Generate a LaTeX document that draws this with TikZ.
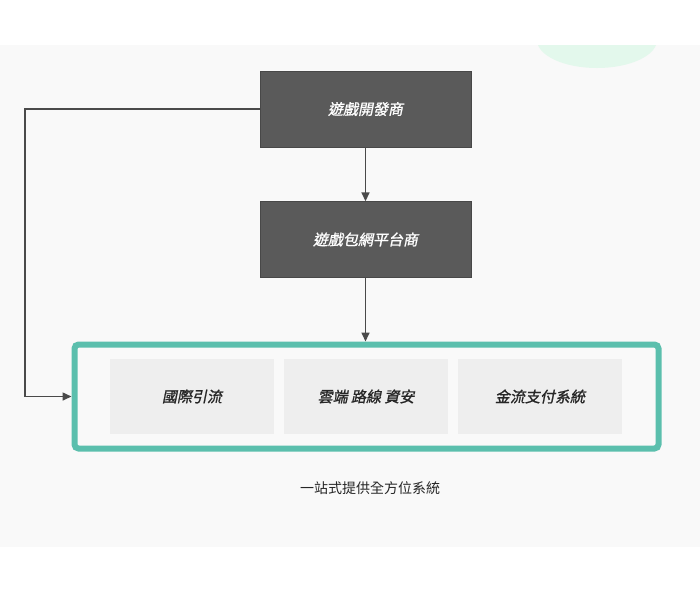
\documentclass[tikz,border=0pt]{standalone}
\usepackage{fontspec}
\newfontfamily\cjk{Noto Sans CJK TC}
\newfontfamily\cjkit[FakeSlant=0.2,FakeBold=1.2]{Noto Sans CJK TC}
\usetikzlibrary{positioning,arrows.meta}
\definecolor{darkbox}{HTML}{5A5A5A}
\definecolor{teal}{HTML}{5BBFAD}
\definecolor{cellgray}{HTML}{EEEEEE}
\definecolor{bandgray}{HTML}{F9F9F9}
\definecolor{mint}{HTML}{E3F8EC}
\definecolor{linegray}{HTML}{4A4A4A}
\begin{document}
\begin{tikzpicture}[x=1pt, y=-1pt, >={Triangle[length=9pt,width=8pt]},
  darknode/.style={rectangle, fill=darkbox, draw=darkbox!80!black, minimum width=211pt, minimum height=76pt, text=white, font=\cjkit\fontsize{15}{18}\selectfont},
  cellnode/.style={rectangle, fill=cellgray, minimum width=164pt, minimum height=75pt, font=\cjkit\fontsize{15}{18}\selectfont, text=black!85},
  link/.style={draw=linegray, line width=1.6pt, ->}
]
  \useasboundingbox (0,0) rectangle (700,592);
  \fill[white] (0,0) rectangle (700,592);
  \fill[bandgray] (0,45) rectangle (700,547);
  % -- soft blob top right --
  \begin{scope}
    \clip (0,45) rectangle (700,547);
    \fill[mint] (597,40) ellipse (60pt and 28pt);
  \end{scope}

  % -- top boxes --
  \node[darknode] (dev) at (365.5,109) {遊戲開發商};
  \node[darknode] (plat) at (365.5,239.5) {遊戲包網平台商};

  % -- bottom frame with cells --
  \node[rectangle, draw=teal, line width=6pt, rounded corners=4pt, minimum width=584pt, minimum height=104pt] (frame) at (366.5,396.5) {};
  \node[cellnode] (traffic) at (192,396.5) {國際引流};
  \node[cellnode] (cloud) at (366,396.5) {雲端 路線 資安};
  \node[cellnode] (pay) at (540,396.5) {金流支付系統};
  \node[font=\cjk\fontsize{14}{17}\selectfont, text=black!85] (caption) at (370,488) {一站式提供全方位系統};

  \draw[link] (dev) -- (plat);
  \draw[link] (plat) -- (frame.north -| plat);
  \coordinate (turn) at (25,109);
  \draw[link] (dev.west) -- (turn) |- (frame.west);
\end{tikzpicture}
\end{document}
